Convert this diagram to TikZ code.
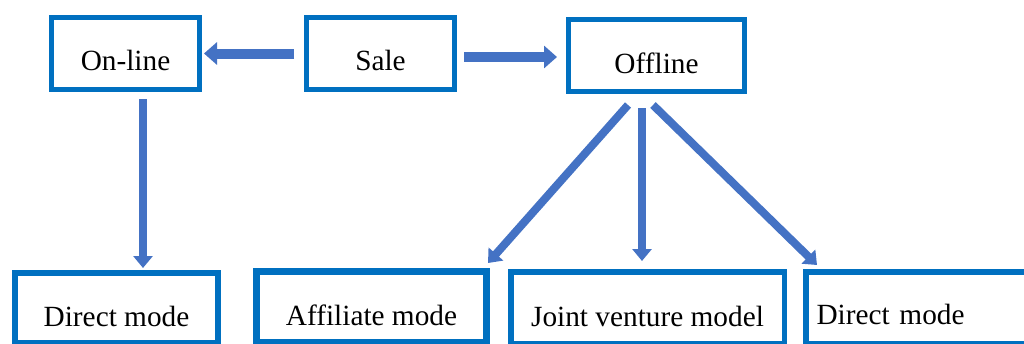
\documentclass[tikz,border=0pt]{standalone}
\usepackage{fontspec}
\setmainfont{Liberation Serif}
\usetikzlibrary{arrows.meta}
\definecolor{boxblue}{HTML}{0070C0}
\definecolor{arrblue}{HTML}{4472C4}
\begin{document}
\begin{tikzpicture}[x=1pt,y=-1pt,
  box/.style={draw=boxblue, line width=5pt, inner sep=0pt, fill=white,
    font=\fontsize{29.3}{34}\selectfont, text depth=0pt},
  topbox/.style={box, minimum height=72pt, text height=33pt},
  lowbox/.style={box, text height=37pt},
  toparr/.style={draw=arrblue, line width=10pt, -{Triangle[width=22pt,length=13pt]}},
  downarr/.style={draw=arrblue, line width=8pt, -{Triangle[width=19pt,length=12pt]}}]

\useasboundingbox (0,0) rectangle (1024,343);
\fill[white] (0,0) rectangle (1024,343);
\clip (0,0) rectangle (1024,343);

% top row
\node[topbox, minimum width=148pt] (online) at (125.5,53.5) {On-line};
\node[topbox, minimum width=148pt] (sale) at (380.5,53.5) {Sale};
\node[topbox, minimum width=176pt, text height=35pt] (offline) at (656.5,55.5) {Offline};

% bottom row
\node[lowbox, line width=6pt, minimum width=203pt, minimum height=70pt] (dleft) at (116.5,308) {Direct mode};
\node[lowbox, line width=7pt, minimum width=230pt, minimum height=71pt] (affil) at (371.5,307) {Affiliate mode};
\node[lowbox, line width=5.5pt, minimum width=273.5pt, minimum height=71.5pt] (joint) at (647.5,307.5) {Joint venture model};
\node[lowbox, line width=5.5pt, minimum width=231.5pt, minimum height=71.5pt,
      text width=210pt, align=left, text height=34pt] (dright) at (921.5,307.5) {Direct mode};

% connectors
\draw[toparr, shorten <=10pt, shorten >=2pt] (sale.west) -- (online.east);
\draw[toparr, shorten <=7pt, shorten >=9pt] ([yshift=-3.5pt]sale.east) -- ([yshift=-1.5pt]offline.west);
\draw[downarr, shorten <=7pt, shorten >=2pt] ([xshift=17.5pt]online.south) -- ([xshift=17.5pt]online.south |- dleft.north);
\draw[downarr] ([xshift=-28.5pt,yshift=-11pt]offline.south) -- ([xshift=-2pt,yshift=5pt]affil.north east);
\draw[downarr, shorten >=8pt] ([xshift=-14.5pt,yshift=-14pt]offline.south) -- ([xshift=-14.5pt]offline.south |- joint.north);
\draw[downarr] ([xshift=-3.5pt,yshift=-11pt]offline.south) -- ([xshift=14pt,yshift=4pt]dright.north west);
\end{tikzpicture}
\end{document}
